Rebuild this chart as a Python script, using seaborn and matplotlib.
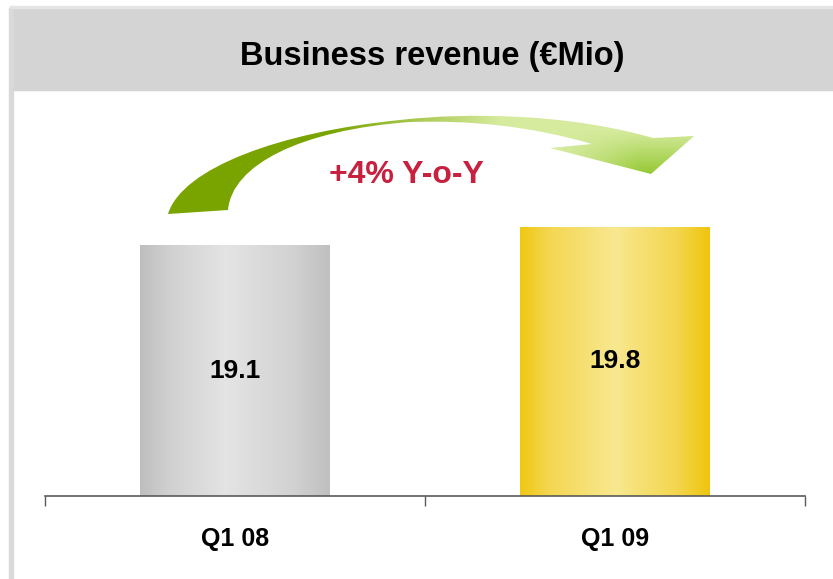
import numpy as np
import pandas as pd
import seaborn as sns
import matplotlib.pyplot as plt
from matplotlib.patches import Rectangle, PathPatch
from matplotlib.path import Path
from matplotlib.colors import LinearSegmentedColormap, to_rgb

quarters = ['Q1 08', 'Q1 09']
revenue = [19.1, 19.8]
value_labels = ['19.1', '19.8']
title = 'Business revenue (€Mio)'
growth_label = '+4% Y-o-Y'

sns.set_theme(style='white')
plt.rcParams['font.family'] = ['Liberation Sans', 'DejaVu Sans']

W, H = 833, 579
fig = plt.figure(figsize=(W / 100, H / 100), dpi=100)
fig.patch.set_facecolor('white')

# header band + left border strip
fig.patches.append(Rectangle((10 / W, 1 - 90 / H), 823 / W, 82 / H,
                             transform=fig.transFigure, color='#d4d4d4', zorder=0))
fig.patches.append(Rectangle((9 / W, 0), 4 / W, 1 - 8 / H,
                             transform=fig.transFigure, color='#d9d9d9', zorder=0))
fig.patches.append(Rectangle((10 / W, 1 - 8 / H), 823 / W, 1.5 / H,
                             transform=fig.transFigure, color='#e4e4e4', zorder=0))
fig.text(432 / W, 1 - 56 / H, title, ha='center', va='center',
         fontsize=23.5, fontweight='bold', color='black')

# main axes
ax = fig.add_axes([45 / W, 83 / H, 760 / W, 407 / H])
ax.set_facecolor('none')
df = pd.DataFrame({'quarter': quarters, 'revenue': revenue})
sns.barplot(data=df, x='quarter', y='revenue', hue='quarter',
            palette=['#d8d8d8', '#f5df6a'], legend=False, width=0.5,
            ax=ax, linewidth=0)

y_lo, y_hi = 9.7, 24.96
ax.set_xlim(-0.5, 1.5)
ax.set_ylim(y_lo, y_hi)

gray_cmap = LinearSegmentedColormap.from_list('g', [
    (0, '#bebebe'), (0.15, '#d0d0d0'), (0.45, '#e4e4e4'), (0.8, '#d2d2d2'), (1, '#c0c0c0')])
yel_cmap = LinearSegmentedColormap.from_list('y', [
    (0, '#f0c812'), (0.15, '#f4d650'), (0.5, '#f8e890'), (0.82, '#f3d650'), (1, '#efc50e')])
grad = np.linspace(0, 1, 256)[None, :]
for patch, cmap in zip(ax.patches, [gray_cmap, yel_cmap]):
    x0, w, h = patch.get_x(), patch.get_width(), patch.get_height()
    im = ax.imshow(grad, cmap=cmap, extent=[x0, x0 + w, y_lo, h],
                   aspect='auto', zorder=2, origin='lower')
    im.set_clip_path(patch)

ax.set_xlim(-0.5, 1.5)
ax.set_ylim(y_lo, y_hi)

for i, (v, lab) in enumerate(zip(revenue, value_labels)):
    ax.text(i, (y_lo + v) / 2, lab, ha='center', va='center',
            fontsize=19, fontweight='bold', color='black', zorder=3)

for s in ['top', 'right', 'left']:
    ax.spines[s].set_visible(False)
ax.spines['bottom'].set_color('#5a5a5a')
ax.spines['bottom'].set_linewidth(1.2)
ax.spines['bottom'].set_zorder(4)
ax.set_yticks([])
ax.set_xticks([0, 1])
ax.set_xticklabels(quarters, fontsize=18, fontweight='bold', color='black')
ax.tick_params(axis='x', which='major', bottom=True, length=0, pad=22)
ax.set_xticks([-0.5, 0.5, 1.5], minor=True)
ax.tick_params(axis='x', which='minor', bottom=True, length=7, width=1,
               color='#5a5a5a', direction='out')
ax.set_xlabel('')
ax.set_ylabel('')

# overlay in pixel coordinates for the growth arrow
ov = fig.add_axes([0, 0, 1, 1], zorder=5)
ov.set_xlim(0, W)
ov.set_ylim(H, 0)
ov.axis('off')
ov.patch.set_alpha(0)

verts = [
    (168, 214),
    (182, 168), (280, 132), (400, 120),
    (470, 112), (570, 114), (653, 138),
    (694, 136),
    (651, 174),
    (550, 148),
    (592, 144),
    (530, 126), (470, 120), (410, 122),
    (300, 130), (232, 165), (228, 210),
    (168, 214),
]
codes = [Path.MOVETO,
         Path.CURVE4, Path.CURVE4, Path.CURVE4,
         Path.CURVE4, Path.CURVE4, Path.CURVE4,
         Path.LINETO, Path.LINETO, Path.LINETO, Path.LINETO,
         Path.CURVE4, Path.CURVE4, Path.CURVE4,
         Path.CURVE4, Path.CURVE4, Path.CURVE4,
         Path.CLOSEPOLY]
arrow = PathPatch(Path(verts, codes), facecolor='none', edgecolor='none')
ov.add_patch(arrow)

gx, gy = np.meshgrid(np.linspace(160, 700, 300), np.linspace(105, 220, 80))
dark = np.array(to_rgb('#7aa400'))
light = np.array(to_rgb('#d6eb9e'))
tip = np.array(to_rgb('#94c832'))
t = np.clip((gx - 330) / 170, 0, 1)[..., None]
img = dark * (1 - t) + light * t
s = (np.clip((gy - 130) / 45, 0, 1) * np.clip((gx - 560) / 80, 0, 1))[..., None]
img = img * (1 - s) + tip * s
im = ov.imshow(img, extent=[160, 700, 220, 105], aspect='auto', zorder=1)
im.set_clip_path(arrow)

ov.text(406, 175, growth_label, ha='center', va='center', fontsize=23,
        fontweight='bold', color='#c8203f', zorder=2)

fig.savefig('out.png', dpi=100)
